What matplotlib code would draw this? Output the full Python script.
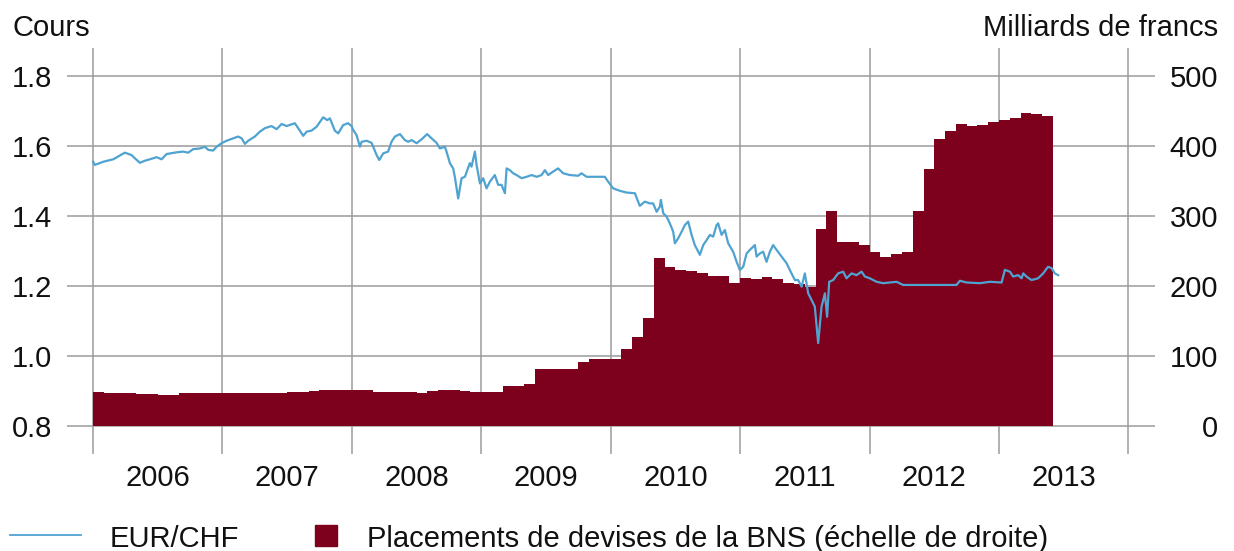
import matplotlib
matplotlib.use('Agg')
import matplotlib.pyplot as plt
from matplotlib.lines import Line2D
from matplotlib.patches import Rectangle

plt.rcParams['font.family'] = ['Liberation Sans', 'DejaVu Sans']

# EUR/CHF (decimal year, rate)
fx_dates = [
    2006.002, 2006.015, 2006.080, 2006.157, 2006.247, 2006.299, 2006.324, 2006.363,
    2006.402, 2006.440, 2006.492, 2006.531, 2006.569, 2006.647, 2006.698, 2006.736,
    2006.775, 2006.827, 2006.865, 2006.891, 2006.929, 2006.956, 2006.994, 2007.033,
    2007.084, 2007.122, 2007.149, 2007.174, 2007.200, 2007.251, 2007.290, 2007.329,
    2007.380, 2007.419, 2007.458, 2007.496, 2007.560, 2007.586, 2007.625, 2007.651,
    2007.689, 2007.728, 2007.779, 2007.810, 2007.831, 2007.869, 2007.895, 2007.934,
    2007.972, 2007.998, 2008.011, 2008.037, 2008.063, 2008.076, 2008.114, 2008.153,
    2008.165, 2008.192, 2008.212, 2008.243, 2008.281, 2008.307, 2008.333, 2008.372,
    2008.410, 2008.436, 2008.462, 2008.501, 2008.539, 2008.582, 2008.616, 2008.655,
    2008.681, 2008.719, 2008.732, 2008.758, 2008.783, 2008.796, 2008.822, 2008.848,
    2008.874, 2008.912, 2008.925, 2008.951, 2008.964, 2008.990, 2009.015, 2009.041,
    2009.067, 2009.105, 2009.131, 2009.157, 2009.183, 2009.196, 2009.221, 2009.247,
    2009.273, 2009.312, 2009.350, 2009.389, 2009.428, 2009.466, 2009.492, 2009.517,
    2009.556, 2009.594, 2009.633, 2009.685, 2009.749, 2009.775, 2009.814, 2009.891,
    2009.955, 2009.981, 2010.019, 2010.071, 2010.123, 2010.187, 2010.212, 2010.225,
    2010.264, 2010.303, 2010.328, 2010.355, 2010.380, 2010.388, 2010.406, 2010.432,
    2010.457, 2010.483, 2010.496, 2010.521, 2010.548, 2010.573, 2010.599, 2010.625,
    2010.650, 2010.689, 2010.715, 2010.741, 2010.766, 2010.792, 2010.818, 2010.830,
    2010.857, 2010.882, 2010.908, 2010.946, 2010.973, 2010.998, 2011.024, 2011.050,
    2011.075, 2011.114, 2011.127, 2011.153, 2011.178, 2011.204, 2011.230, 2011.255,
    2011.282, 2011.320, 2011.359, 2011.397, 2011.423, 2011.448, 2011.475, 2011.500,
    2011.526, 2011.552, 2011.577, 2011.603, 2011.629, 2011.655, 2011.672, 2011.688,
    2011.719, 2011.757, 2011.796, 2011.822, 2011.861, 2011.899, 2011.938, 2011.964,
    2012.002, 2012.054, 2012.105, 2012.157, 2012.209, 2012.259, 2012.389, 2012.518,
    2012.672, 2012.698, 2012.749, 2012.852, 2012.929, 2013.020, 2013.045, 2013.084,
    2013.109, 2013.148, 2013.174, 2013.187, 2013.212, 2013.251, 2013.302, 2013.341,
    2013.379, 2013.406, 2013.431, 2013.457,
]
fx_values = [
    1.555, 1.546, 1.555, 1.562, 1.581, 1.574, 1.565, 1.552,
    1.558, 1.562, 1.568, 1.562, 1.577, 1.582, 1.584, 1.581,
    1.591, 1.593, 1.598, 1.589, 1.587, 1.598, 1.608, 1.615,
    1.622, 1.627, 1.622, 1.606, 1.615, 1.627, 1.641, 1.651,
    1.657, 1.648, 1.663, 1.657, 1.665, 1.651, 1.629, 1.641,
    1.644, 1.655, 1.682, 1.674, 1.679, 1.644, 1.636, 1.660,
    1.665, 1.657, 1.646, 1.631, 1.598, 1.612, 1.615, 1.609,
    1.598, 1.574, 1.560, 1.579, 1.584, 1.612, 1.627, 1.634,
    1.617, 1.612, 1.617, 1.608, 1.619, 1.634, 1.622, 1.609,
    1.593, 1.598, 1.584, 1.551, 1.536, 1.512, 1.450, 1.508,
    1.512, 1.551, 1.541, 1.584, 1.546, 1.493, 1.508, 1.479,
    1.498, 1.517, 1.489, 1.489, 1.465, 1.536, 1.531, 1.522,
    1.517, 1.508, 1.512, 1.517, 1.512, 1.517, 1.531, 1.517,
    1.527, 1.536, 1.522, 1.517, 1.515, 1.522, 1.512, 1.512,
    1.512, 1.498, 1.479, 1.472, 1.467, 1.465, 1.441, 1.429,
    1.441, 1.436, 1.436, 1.412, 1.427, 1.446, 1.408, 1.398,
    1.379, 1.355, 1.322, 1.336, 1.355, 1.374, 1.384, 1.346,
    1.317, 1.289, 1.317, 1.331, 1.346, 1.341, 1.374, 1.379,
    1.346, 1.360, 1.322, 1.298, 1.269, 1.246, 1.255, 1.293,
    1.303, 1.317, 1.284, 1.293, 1.298, 1.269, 1.298, 1.317,
    1.303, 1.284, 1.265, 1.236, 1.217, 1.217, 1.198, 1.236,
    1.179, 1.160, 1.141, 1.037, 1.141, 1.179, 1.112, 1.212,
    1.217, 1.236, 1.241, 1.222, 1.236, 1.231, 1.241, 1.227,
    1.222, 1.212, 1.208, 1.210, 1.212, 1.203, 1.203, 1.203,
    1.203, 1.215, 1.210, 1.208, 1.212, 1.210, 1.246, 1.241,
    1.227, 1.231, 1.222, 1.236, 1.227, 1.217, 1.222, 1.236,
    1.255, 1.251, 1.236, 1.231,
]

# SNB foreign currency investments, monthly, Jan 2006 - May 2013 (bn CHF)
bns_start = 2006
bns_values = [
    48, 47.5, 47, 46.5, 46, 45.5, 45, 45, 46.5, 47, 47, 47,
    46.5, 46.5, 46.5, 47, 47, 47.5, 48, 49, 50, 51, 51, 51,
    51, 51, 49, 48.5, 48.5, 48.5, 47.6, 49.5, 51, 51, 49.5, 48.5,
    48, 48, 57, 57, 59.5, 82, 82, 82, 82, 91, 96, 96,
    96, 110, 126.7, 155, 240, 227.6, 223, 221, 218, 215, 215, 205,
    211, 210.5, 213, 210, 205, 203, 199, 282, 306.6, 263, 263, 258.6,
    249, 242, 246, 248, 307, 367, 410, 422, 431, 428, 429.5, 434,
    437, 440, 446.7, 446, 443,
]

years = list(range(2006, 2015))
year_labels = ['2006', '2007', '2008', '2009', '2010', '2011', '2012', '2013']
left_ticks = [0.8, 1.0, 1.2, 1.4, 1.6, 1.8]
right_ticks = [0, 100, 200, 300, 400, 500]

blue = '#4fa3d1'
red = '#7d001c'
grid_c = '#9b9b9b'
txt = '#111111'
fs = 21

fig = plt.figure(figsize=(12.34, 5.51), dpi=100)
ax = fig.add_axes([67 / 1234, 1 - 454 / 551, 1088 / 1234, 406 / 551])
axl = ax.twinx()
ax.yaxis.tick_right()
axl.yaxis.tick_left()

# bars (right scale), below the line
edges = [bns_start + i / 12 for i in range(len(bns_values) + 1)]
ax.stairs(bns_values, edges, baseline=0, fill=True, color=red, zorder=2)

ax.set_xlim(2005.80, 2014.205)
ax.set_ylim(-40, 540)
ax.set_yticks(right_ticks)
ax.set_yticklabels([str(v) for v in right_ticks])
ax.set_xticks(years)
ax.set_xticklabels([])
ax.set_xticks([y + 0.5 for y in years[:-1]], minor=True)
ax.set_xticklabels(year_labels, minor=True)
ax.tick_params(axis='both', which='both', length=0, colors=txt, labelsize=fs)
ax.tick_params(axis='x', which='minor', pad=7)
ax.tick_params(axis='y', pad=45.4)
for t in ax.get_yticklabels():
    t.set_horizontalalignment('right')
ax.grid(True, which='major', color=grid_c, lw=1.1)
ax.set_axisbelow(True)
for s in ax.spines.values():
    s.set_visible(False)

# EUR/CHF line (left scale)
axl.plot(fx_dates, fx_values, color=blue, lw=1.6, zorder=3)
axl.set_ylim(0.72, 1.88)
axl.set_yticks(left_ticks)
axl.set_yticklabels(['%.1f' % v for v in left_ticks])
axl.tick_params(length=0, pad=10.5, colors=txt, labelsize=fs)
for s in axl.spines.values():
    s.set_visible(False)

# axis titles
fig.text(12 / 1234, 1 - 36 / 551, 'Cours', fontsize=fs, color=txt, ha='left', va='baseline')
fig.text(1218 / 1234, 1 - 36 / 551, 'Milliards de francs', fontsize=fs, color=txt,
         ha='right', va='baseline')

# legend
fig.add_artist(Line2D([10 / 1234, 81 / 1234], [1 - 535 / 551, 1 - 535 / 551],
                      color=blue, lw=1.3, transform=fig.transFigure))
fig.text(110 / 1234, 1 - 547 / 551, 'EUR/CHF', fontsize=fs, color=txt, ha='left', va='baseline')
fig.add_artist(Rectangle((315 / 1234, 1 - 546 / 551), 22 / 1234, 21 / 551,
                         color=red, transform=fig.transFigure))
fig.text(367 / 1234, 1 - 547 / 551, 'Placements de devises de la BNS (échelle de droite)',
         fontsize=fs, color=txt, ha='left', va='baseline')

fig.savefig('out.png', dpi=100)
